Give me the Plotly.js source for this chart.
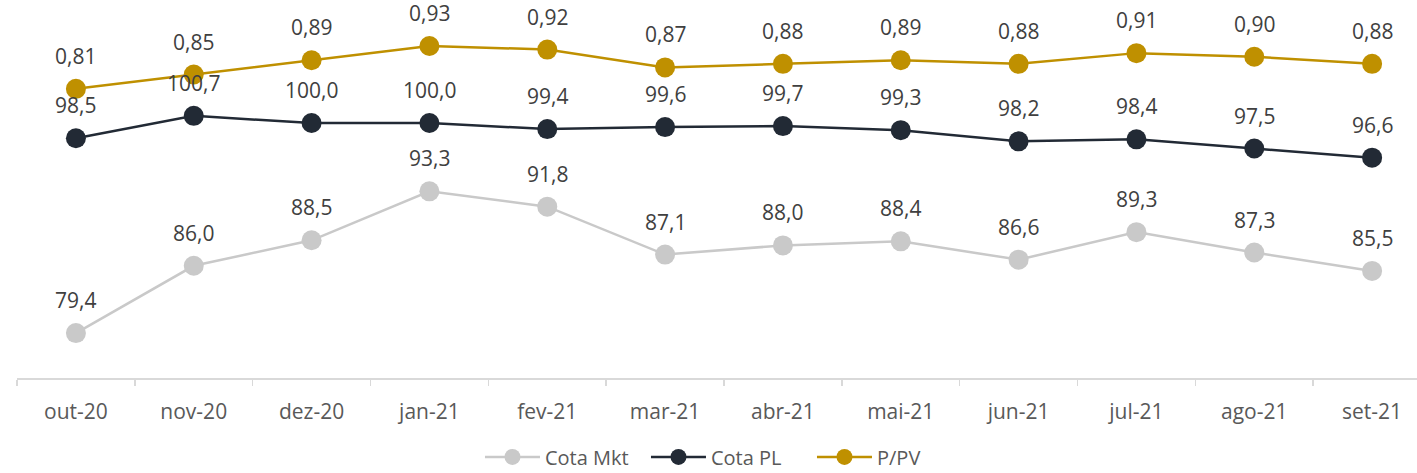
<!DOCTYPE html>
<html>
<head>
<meta charset="utf-8">
<script src="https://cdn.plot.ly/plotly-3.0.1.min.js"></script>
<style>html,body{margin:0;padding:0;background:#fff;}#chart{width:1417px;height:473px;}</style>
</head>
<body>
<div id="chart"></div>
<script>
const categories = ["out-20","nov-20","dez-20","jan-21","fev-21","mar-21","abr-21","mai-21","jun-21","jul-21","ago-21","set-21"];
const cotaMkt = [79.4, 86.0, 88.5, 93.3, 91.8, 87.1, 88.0, 88.4, 86.6, 89.3, 87.3, 85.5];
const cotaPL = [98.5, 100.7, 100.0, 100.0, 99.4, 99.6, 99.7, 99.3, 98.2, 98.4, 97.5, 96.6];
const pPV = [0.81, 0.85, 0.89, 0.93, 0.92, 0.87, 0.88, 0.89, 0.88, 0.91, 0.90, 0.88];

const FONT = "Open Sans, sans-serif";
const colMkt = "#C9C9C9", colPL = "#222A35", colPV = "#BF9000";

function fmt(v, d){ return v.toFixed(d).replace('.', ','); }

const traces = [
  {name:"Cota Mkt", x:categories, y:cotaMkt, type:"scatter", mode:"lines+markers", yaxis:"y",
   line:{color:colMkt, width:2.5}, marker:{color:colMkt, size:20}, hoverinfo:"skip"},
  {name:"Cota PL", x:categories, y:cotaPL, type:"scatter", mode:"lines+markers", yaxis:"y",
   line:{color:colPL, width:2.5}, marker:{color:colPL, size:20}, hoverinfo:"skip"},
  {name:"P/PV", x:categories, y:pPV, type:"scatter", mode:"lines+markers", yaxis:"y2",
   line:{color:colPV, width:2.5}, marker:{color:colPV, size:20}, hoverinfo:"skip"}
];

const annotations = [];
function addLabels(vals, yref, dec){
  vals.forEach((v,i)=>{
    annotations.push({x:categories[i], y:v, xref:"x", yref:yref, text:fmt(v,dec), showarrow:false,
      yshift:33, font:{family:FONT, size:21, color:"#404040"}});
  });
}
addLabels(cotaMkt, "y", 1);
addLabels(cotaPL, "y", 1);
addLabels(pPV, "y2", 2);

const layout = {
  width:1417, height:473,
  margin:{l:17, r:0, t:21, b:95, pad:0, autoexpand:false},
  paper_bgcolor:"#ffffff", plot_bgcolor:"#ffffff",
  showlegend:true,
  legend:{orientation:"h", x:0.3307, xanchor:"left", y:-0.221, yanchor:"middle",
    font:{family:FONT, size:20, color:"#595959"}, itemwidth:55, traceorder:"normal",
    entrywidth:96, entrywidthmode:"pixels", tracegroupgap:0},
  xaxis:{type:"category", range:[-0.5, 11.381], showgrid:false, zeroline:false,
    showline:true, linecolor:"#D9D9D9", linewidth:1.5,
    ticks:"outside", tickson:"boundaries", ticklen:6, tickcolor:"#D9D9D9", tickwidth:1.5,
    tickfont:{family:FONT, size:21, color:"#595959"}, ticklabelstandoff:14, automargin:false},
  yaxis:{range:[75,110], visible:false, showgrid:false, zeroline:false},
  yaxis2:{range:[0,1], overlaying:"y", side:"right", visible:false, showgrid:false, zeroline:false},
  annotations:annotations
};

Plotly.newPlot("chart", traces, layout, {displayModeBar:false, staticPlot:true});
</script>
</body>
</html>
